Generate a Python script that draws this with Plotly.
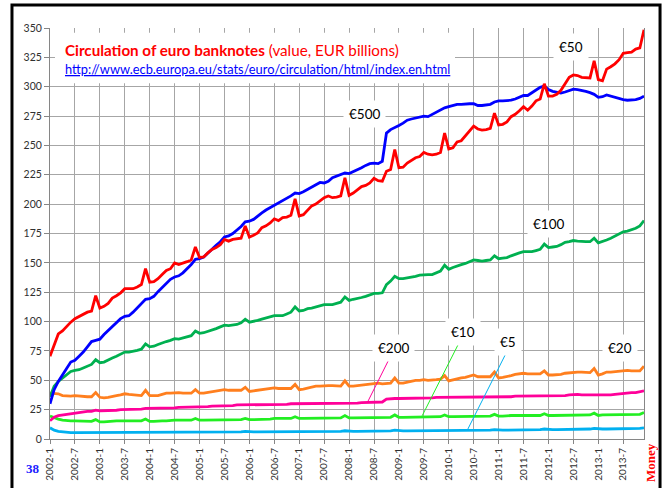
import plotly.graph_objects as go

# monthly categories 2002-1 .. 2013-12
years = list(range(2002, 2014))
months = [f"{y}-{m}" for y in years for m in range(1, 13)]
tick_labels = [f"{y}-{m}" for y in years for m in (1, 7)]

eur500 = [
    30, 42, 49, 55, 60, 65.5, 67, 70.5, 74, 78.5, 83, 84,
    85, 89, 92.5, 96, 99.5, 102.5, 104.5, 105, 108, 111.5, 115.5, 119,
    119.5, 121.5, 125.5, 129, 133, 136, 138, 139, 141.5, 145, 148.5, 153,
    153.5, 155, 158, 161.5, 165, 168, 172, 173, 175, 178, 181, 185,
    185.5, 187, 190, 192.5, 195, 197, 199, 200.5, 202.5, 204.5, 207, 209.5,
    209, 210.5, 212.5, 214.5, 217, 218.5, 218, 219.5, 222.5, 224, 225.5, 226.5,
    226, 227.5, 229.5, 231, 233, 234.5, 235, 234.5, 236.5, 260.5, 263.5, 265,
    267, 269, 271.5, 272.5, 273.5, 274.5, 275, 274.5, 276.5, 278.5, 280.5, 282,
    283, 284, 285, 285, 285.5, 285.5, 285.5, 284, 284, 284.5, 285, 287,
    288, 288, 288, 288.5, 289.5, 291, 292.5, 292.5, 295, 297.5, 299.5, 300.5,
    297.5, 296, 295, 294.5, 295.5, 297, 298, 297.5, 297, 296, 295, 293.5,
    291, 291.5, 293, 292, 290.5, 289.5, 289, 288.5, 288.5, 289, 290, 292,
]

eur50 = [
    70.5, 80.5, 89.5, 92, 96, 99.5, 102.5, 104.5, 106, 108, 109, 122,
    111.5, 113, 115.5, 120, 122, 124.5, 128, 128, 128, 129.5, 131.5, 145,
    133.5, 134, 136.5, 140, 143.5, 145, 150, 148.5, 149.5, 151, 152.5, 163.5,
    154.5, 155, 158.5, 161.5, 163, 165.5, 170, 168.5, 170, 170.5, 171, 181.5,
    172, 173.5, 175.5, 180, 181.5, 184, 187.5, 186, 188.5, 189, 190.5, 204.5,
    190, 191, 195, 198.5, 200, 202.5, 205.5, 207, 205.5, 206, 207, 222.5,
    207.5, 209.5, 212, 215, 216, 218, 222, 220, 219.5, 228, 229.5, 246.5,
    231, 231.5, 235, 237, 239.5, 240.5, 244, 242.5, 242, 242.5, 244, 260.5,
    247, 248, 253, 254, 258, 262, 266.5, 264, 263, 263.5, 264.5, 277.5,
    267.5, 268, 270, 274.5, 276.5, 279.5, 283, 280, 283.5, 288, 289.5, 302.5,
    292, 292, 293.5, 297, 303, 308, 310, 309.5, 308, 307.5, 307.5, 322,
    306, 305, 315, 317, 319.5, 323, 328.5, 329, 329.5, 332, 333, 348.5,
]

eur100 = [
    36, 45, 49, 52, 55, 57.5, 58.5, 59, 60.5, 62, 63.5, 67.5,
    65, 65.5, 67.5, 69, 70.5, 72, 74, 74, 74.5, 75.5, 76.5, 81,
    78.5, 79, 80.5, 82, 83, 84, 85.5, 85, 86, 87, 88, 92,
    90, 90.5, 91.5, 93, 94, 95.5, 97, 96.5, 97, 97.5, 99, 102,
    99.5, 100, 101, 102, 103, 104, 105, 105, 105, 106.5, 108, 112.5,
    109, 109.5, 111, 111.5, 112.5, 113.5, 114.5, 114.5, 114.5, 115.5, 116.5, 121,
    118, 119, 119.5, 120.5, 121.5, 122.5, 124, 124, 124.5, 131.5, 134.5, 138.5,
    136.5, 136.5, 137, 138, 138.5, 139.5, 140, 140, 140, 141.5, 143, 148,
    144.5, 146, 147.5, 148.5, 149.5, 151, 152.5, 152, 151.5, 152, 152.5, 156,
    153.5, 154, 154.5, 156, 157.5, 158.5, 159.5, 159.5, 159.5, 160.5, 161.5, 166,
    163, 163.5, 164, 165.5, 167.5, 168, 169, 168.5, 168, 168, 168, 171,
    167, 168, 169.5, 171, 173, 174.5, 176.5, 177, 178, 179.5, 181.5, 186,
]

eur20 = [
    39, 39, 38.5, 37, 36.5, 36.5, 37, 36.5, 36.5, 36, 36, 39.5,
    35.5, 35, 35.5, 36.5, 37, 37.5, 38.5, 38, 37.5, 37, 37, 41.5,
    37, 37, 37, 38, 39, 39, 39.5, 39.5, 39, 39, 39, 42,
    39, 39, 39.5, 40, 40.5, 41.5, 42, 41.5, 41.5, 41.5, 41.5, 44,
    40.5, 41, 41.5, 42, 42.5, 43, 43.5, 43, 43, 43, 43, 46.5,
    42, 42.5, 43.5, 44, 45, 45, 45.5, 45.5, 45.5, 45, 45, 49.5,
    45, 45, 45.5, 46, 46.5, 47, 47.5, 47.5, 47, 47.5, 47.5, 52,
    47.5, 47.5, 48.5, 49, 50, 50, 50.5, 50, 50, 50.5, 51, 54,
    49.5, 50.5, 51.5, 52, 52.5, 53.5, 54.5, 53, 53, 53, 53, 57,
    52, 52.5, 53, 54, 55, 55.5, 56, 55.5, 55.5, 55.5, 55.5, 58,
    54.5, 54.5, 54.5, 55, 56, 56.5, 57, 57, 57, 56.5, 56.5, 60,
    54.5, 55.5, 57, 57, 57.5, 58, 58.5, 58.5, 58, 58, 58, 62,
]

eur200 = [
    15.5, 18.5, 20, 20.5, 21.5, 22, 22.5, 23, 23, 23.5, 23.5, 24.5,
    24, 24, 24.5, 24.5, 24.5, 25, 25, 25.5, 25.5, 25.5, 25.5, 26,
    26, 26, 26, 26.5, 26.5, 26.5, 26.5, 27, 27, 27, 27, 27.5,
    27.5, 27.5, 27.5, 28, 28, 28, 28.5, 28.5, 28.5, 29, 29, 29.5,
    29.5, 29.5, 29.5, 29.5, 29.5, 29.5, 29.5, 29.5, 29.5, 29.5, 30, 30,
    30, 30, 30, 30, 30, 30, 30.5, 30.5, 30.5, 30.5, 30.5, 30.5,
    30.5, 30.5, 30.5, 31, 31, 31, 31, 31, 31.5, 34, 34.5, 34.5,
    34.5, 34.5, 34.5, 34.5, 35, 35, 35, 35, 35, 35.5, 35.5, 35.5,
    35.5, 35.5, 35.5, 35.5, 35.5, 35.5, 36, 36, 36, 36, 36, 36,
    36, 36, 36, 36, 36.5, 36.5, 36.5, 36.5, 36.5, 36.5, 36.5, 36.5,
    36.5, 36.5, 36.5, 37, 37, 37.5, 38, 38, 37.5, 37.5, 37.5, 37.5,
    37, 37, 37, 37.5, 38, 38.5, 39, 39, 39.5, 39.5, 40, 41,
]

eur10 = [
    19.5, 18, 17, 16, 15.5, 15.5, 15.5, 15.5, 15, 15, 15, 16.5,
    14.5, 14.5, 15, 15, 15.5, 15.5, 15.5, 15.5, 15.5, 15.5, 15.5, 17,
    15, 15, 15.5, 15.5, 15.5, 16, 16, 16, 16, 16, 16, 17.5,
    16, 16, 16, 16, 16, 16.5, 16.5, 16.5, 16.5, 16.5, 16.5, 17.5,
    16.5, 16.5, 16.5, 17, 17, 17, 17.5, 17.5, 17, 17, 17.5, 19,
    17.5, 17.5, 17.5, 17.5, 18, 18, 18, 18, 18, 18, 18, 20,
    18, 18, 18, 18, 18.5, 18.5, 18.5, 18.5, 18.5, 18.5, 18.5, 20.5,
    18.5, 18.5, 18.5, 19, 19, 19, 19, 19, 19, 19, 19, 20.5,
    19, 19, 19, 19.5, 19.5, 19.5, 19.5, 19.5, 19.5, 19.5, 19.5, 21,
    19.5, 19.5, 20, 20, 20, 20, 20, 20, 20, 20, 20, 21.5,
    20, 20, 20, 20.5, 20.5, 20.5, 20.5, 20.5, 20.5, 20.5, 20.5, 22,
    20, 20.5, 20.5, 21, 21, 21, 21, 21, 21, 21, 21, 22.5,
]

eur5 = [
    9.5, 7.5, 6.5, 6, 6, 5.5, 5.5, 5.5, 5.5, 5.5, 5.5, 6,
    5.5, 5.5, 5.5, 5.5, 5.5, 5.5, 5.5, 5.5, 5.5, 5.5, 5.5, 6,
    5.5, 5.5, 5.5, 5.5, 5.5, 5.5, 5.5, 5.5, 5.5, 5.5, 5.5, 6,
    5.5, 5.5, 5.5, 5.5, 5.5, 6, 6, 6, 6, 6, 6, 6.5,
    6, 6, 6, 6, 6, 6, 6, 6, 6, 6, 6, 6.5,
    6, 6, 6, 6, 6, 6.5, 6.5, 6.5, 6.5, 6.5, 6.5, 7,
    6.5, 6.5, 6.5, 6.5, 6.5, 6.5, 7, 7, 7, 7, 7, 7.5,
    7, 7, 7, 7, 7, 7, 7, 7, 7, 7, 7, 7.5,
    7, 7, 7.5, 7.5, 7.5, 7.5, 7.5, 7.5, 7.5, 7.5, 7.5, 8,
    7.5, 7.5, 7.5, 7.5, 8, 8, 8, 8, 8, 8, 8, 8.5,
    8, 8, 8, 8, 8, 8.5, 8.5, 8.5, 8.5, 8.5, 8.5, 9,
    8.5, 8.5, 8.5, 8.5, 8.5, 8.5, 9, 9, 9, 9, 9, 9.5,
]

series = [
    ("€5", eur5, "#00b0f0"),
    ("€10", eur10, "#22ee22"),
    ("€200", eur200, "#ff0099"),
    ("€20", eur20, "#ff7f1e"),
    ("€100", eur100, "#00b050"),
    ("€500", eur500, "#0000ff"),
    ("€50", eur50, "#ff0000"),
]

# label text, position (month index, value)
labels = [
    ("€50", 125.4, 334),
    ("€500", 75.6, 277),
    ("€100", 120.1, 183.3),
    ("€200", 82.6, 77.8),
    ("€10", 99.4, 91.3),
    ("€5", 110.3, 82.9),
    ("€20", 137.2, 77.8),
]
# leader lines: (x0, y0, x1, y1, colour)
leaders = [
    (81.8, 69.2, 76.5, 31.8, "#ff0099"),
    (98.5, 82.1, 89.6, 19.8, "#22ee22"),
    (110.0, 74.5, 100.4, 7.1, "#00b0f0"),
]

fig = go.Figure()
for name, vals, col in series:
    fig.add_trace(go.Scatter(x=months, y=vals, mode="lines", name=name,
                             line=dict(color=col, width=2.8)))

# white box behind title
fig.add_shape(type="rect", xref="x", yref="y", x0=1.2, x1=97.5, y0=303, y1=346,
              fillcolor="white", line=dict(width=0), layer="between")

for txt, lx, ly in labels:
    fig.add_annotation(x=lx, y=ly, xref="x", yref="y", text=txt, showarrow=False,
                       font=dict(family="Lato", size=13.5, color="black"),
                       bgcolor="white", borderpad=5)

for x0, y0, x1, y1, col in leaders:
    fig.add_shape(type="line", xref="x", yref="y", x0=x0, y0=y0, x1=x1, y1=y1,
                  line=dict(color=col, width=1))

fig.add_annotation(
    xref="paper", yref="paper", x=0.022, y=0.946, xanchor="left", yanchor="middle",
    text="<b>Circulation of euro banknotes</b> (value, EUR billions)",
    showarrow=False, font=dict(family="Lato", size=15.2, color="#ff0000"))
fig.add_annotation(
    xref="paper", yref="paper", x=0.022, y=0.9, xanchor="left", yanchor="middle",
    text="<u>http://www.ecb.europa.eu/stats/euro/circulation/html/index.en.html</u>",
    showarrow=False, font=dict(family="Lato", size=12.8, color="#0000ff"))

# page decorations
fig.add_annotation(xref="paper", yref="paper", x=-0.043, y=-0.096, text="<b>38</b>",
                   showarrow=False, font=dict(family="Liberation Serif", size=13, color="#2020ff"))
fig.add_annotation(xref="paper", yref="paper", x=1.01, y=-0.056,
                   xanchor="center", yanchor="middle",
                   text="<b>Money</b>", textangle=-90, showarrow=False,
                   font=dict(family="Liberation Serif", size=13, color="#ff0000"))
fig.add_shape(type="rect", xref="paper", yref="paper", x0=-0.064, x1=1.027,
              y0=-0.2, y1=1.056, line=dict(color="black", width=3))

fig.update_layout(
    width=667, height=488,
    margin=dict(l=50, r=23, t=28, b=49),
    plot_bgcolor="white", paper_bgcolor="white",
    showlegend=False,
    font=dict(family="Lato", size=10, color="#303030"),
    xaxis=dict(type="category", range=[0, 143], tickvals=tick_labels, ticktext=tick_labels,
               tickangle=-90, showgrid=True, gridcolor="#a6a6a6", gridwidth=1,
               showline=True, linecolor="#868686", linewidth=1, automargin=False,
               ticks="outside", ticklen=4, tickcolor="#868686",
               tickfont=dict(size=10)),
    yaxis=dict(range=[0, 350], dtick=25, showgrid=True, gridcolor="#a6a6a6", gridwidth=1,
               showline=True, linecolor="#868686", linewidth=1, mirror=True,
               automargin=False, ticks="outside", ticklen=5, tickcolor="#868686",
               zeroline=False, tickfont=dict(size=10.5)),
)

fig.write_html("out.html", config={"displayModeBar": False},
               post_script="document.body.style.margin='0';")
